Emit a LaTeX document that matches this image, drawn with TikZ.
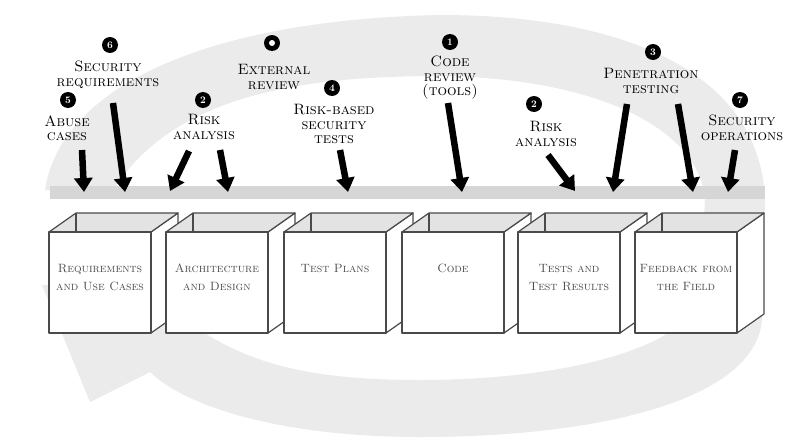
\documentclass[tikz,border=0pt]{standalone}
\usepackage{tikz}
\usetikzlibrary{calc,arrows.meta}
\definecolor{ringgray}{HTML}{EBEBEB}
\definecolor{bargray}{HTML}{D6D6D6}
\definecolor{lidgray}{HTML}{E3E3E3}
\definecolor{edgegray}{HTML}{4A4A4A}
\tikzstyle{touchlabel}=[align=center,text=black,inner sep=1pt,
                      font=\fontsize{15}{14.5}\selectfont\scshape]
\tikzstyle{numdot}=[circle,fill=black,text=white,inner sep=0pt,minimum size=16pt,
                      font=\fontsize{10}{10}\selectfont\bfseries]
\tikzstyle{bigarrow}=[line width=6.5pt,-{Triangle[width=18pt,length=14pt]}]
\tikzstyle{boxtext}=[align=center,text=black!70,inner sep=0pt,anchor=north,
                      font=\fontsize{12}{18}\selectfont\scshape]
\tikzstyle{boxedge}=[draw=edgegray,line width=1.2pt,line join=round]
\newcommand\boxdx{27}
\newcommand\boxdy{19}
% one phase box: name, left edge, text
\newcommand\phasebox[3]{
	\filldraw [white,boxedge] (#2+102,232) -- ++(\boxdx,-\boxdy) -- ++(0,101) -- (#2+102,333) -- cycle;
	\filldraw [lidgray,boxedge] (#2,232) -- ++(\boxdx,-\boxdy) -- ++(102,0) -- (#2+102,232) -- cycle;
	\draw [boxedge] (#2+\boxdx,213) -- (#2+\boxdx,232);
	\filldraw [white,boxedge] (#2,232) rectangle (#2+102,333);
	\node [boxtext] (#1) at (#2+51,264) {#3};
}

\begin{document}
\begin{tikzpicture}[x=1pt,y=-1pt]
	\useasboundingbox (0,0) rectangle (808,447);
	\fill [white] (0,0) rectangle (808,447);

	% the big cycle arrow in the back
	\fill [ringgray] (45,190) .. controls (60,90) and (200,20) .. (440,15)
		.. controls (620,15) and (760,70) .. (765,200) -- (762,320)
		.. controls (755,400) and (600,437) .. (420,437)
		.. controls (290,437) and (190,410) .. (150,372)
		-- (90,402) -- (42,285) -- (225,290) -- (200,330)
		.. controls (260,370) and (330,380) .. (420,380)
		.. controls (560,380) and (680,350) .. (700,300) -- (705,200)
		.. controls (700,130) and (600,78) .. (440,76)
		.. controls (300,76) and (170,95) .. (110,195) -- cycle;

	% the gray bar
	\fill [bargray] (50,186) rectangle (765,199);

	% the phases
	\phasebox{Req}{49}{Requirements\\and Use Cases}
	\phasebox{Arch}{166}{Architecture\\and Design}
	\phasebox{Plans}{284}{Test Plans}
	\phasebox{Code}{402}{Code}
	\phasebox{Results}{518}{Tests and\\Test Results}
	\phasebox{Field}{635}{Feedback from\\the Field}

	% the touchpoints
	\node [numdot] (NumSecReq) at (110,45) {6};
	\node [touchlabel] (SecReq) at (108,75) {Security\\requirements};
	\node [numdot] (NumAbuse) at (68,100) {5};
	\node [touchlabel] (Abuse) at (67,128) {Abuse\\cases};
	\node [numdot] (NumRiskArch) at (203,100) {2};
	\node [touchlabel] (RiskArch) at (204,127) {Risk\\analysis};
	\node [numdot] (NumExtRev) at (272,43) {};
	\fill [white] (NumExtRev) circle (3);
	\node [touchlabel] (ExtRev) at (274,77) {External\\review};
	\node [numdot] (NumRiskTests) at (332,88) {4};
	\node [touchlabel] (RiskTests) at (334,124) {Risk-based\\security\\tests};
	\node [numdot] (NumCodeRev) at (450,42) {1};
	\node [touchlabel] (CodeRev) at (450,78) {Code\\review\\(tools)};
	\node [numdot] (NumRiskRes) at (534,104) {2};
	\node [touchlabel] (RiskRes) at (546,134) {Risk\\analysis};
	\node [numdot] (NumPenTest) at (653,52) {3};
	\node [touchlabel] (PenTest) at (651,81) {Penetration\\testing};
	\node [numdot] (NumSecOps) at (740,100) {7};
	\node [touchlabel] (SecOps) at (742,128) {Security\\operations};

	% where the arrows hit the bar
	\coordinate (HitAbuse) at (84,192);
	\coordinate (HitSecReq) at (125,192);
	\coordinate (HitRiskA) at (170,191);
	\coordinate (HitRiskB) at (228,192);
	\coordinate (HitRiskTests) at (348,192);
	\coordinate (HitCodeRev) at (462,192);
	\coordinate (HitRiskRes) at (575,191);
	\coordinate (HitPenA) at (613,192);
	\coordinate (HitPenB) at (693,192);
	\coordinate (HitSecOps) at (728,192);

	\draw [bigarrow] ($(Abuse)+(15,22)$) -- (HitAbuse);
	\draw [bigarrow] ($(SecReq)+(5,28)$) -- (HitSecReq);
	\draw [bigarrow] ($(RiskArch)+(-15,24)$) -- (HitRiskA);
	\draw [bigarrow] ($(RiskArch)+(16,23)$) -- (HitRiskB);
	\draw [bigarrow] ($(RiskTests)+(6,26)$) -- (HitRiskTests);
	\draw [bigarrow] ($(CodeRev)+(-2,25)$) -- (HitCodeRev);
	\draw [bigarrow] ($(RiskRes)+(2,21)$) -- (HitRiskRes);
	\draw [bigarrow] ($(PenTest)+(-24,23)$) -- (HitPenA);
	\draw [bigarrow] ($(PenTest)+(27,23)$) -- (HitPenB);
	\draw [bigarrow] ($(SecOps)+(-7,22)$) -- (HitSecOps);
\end{tikzpicture}
\end{document}
